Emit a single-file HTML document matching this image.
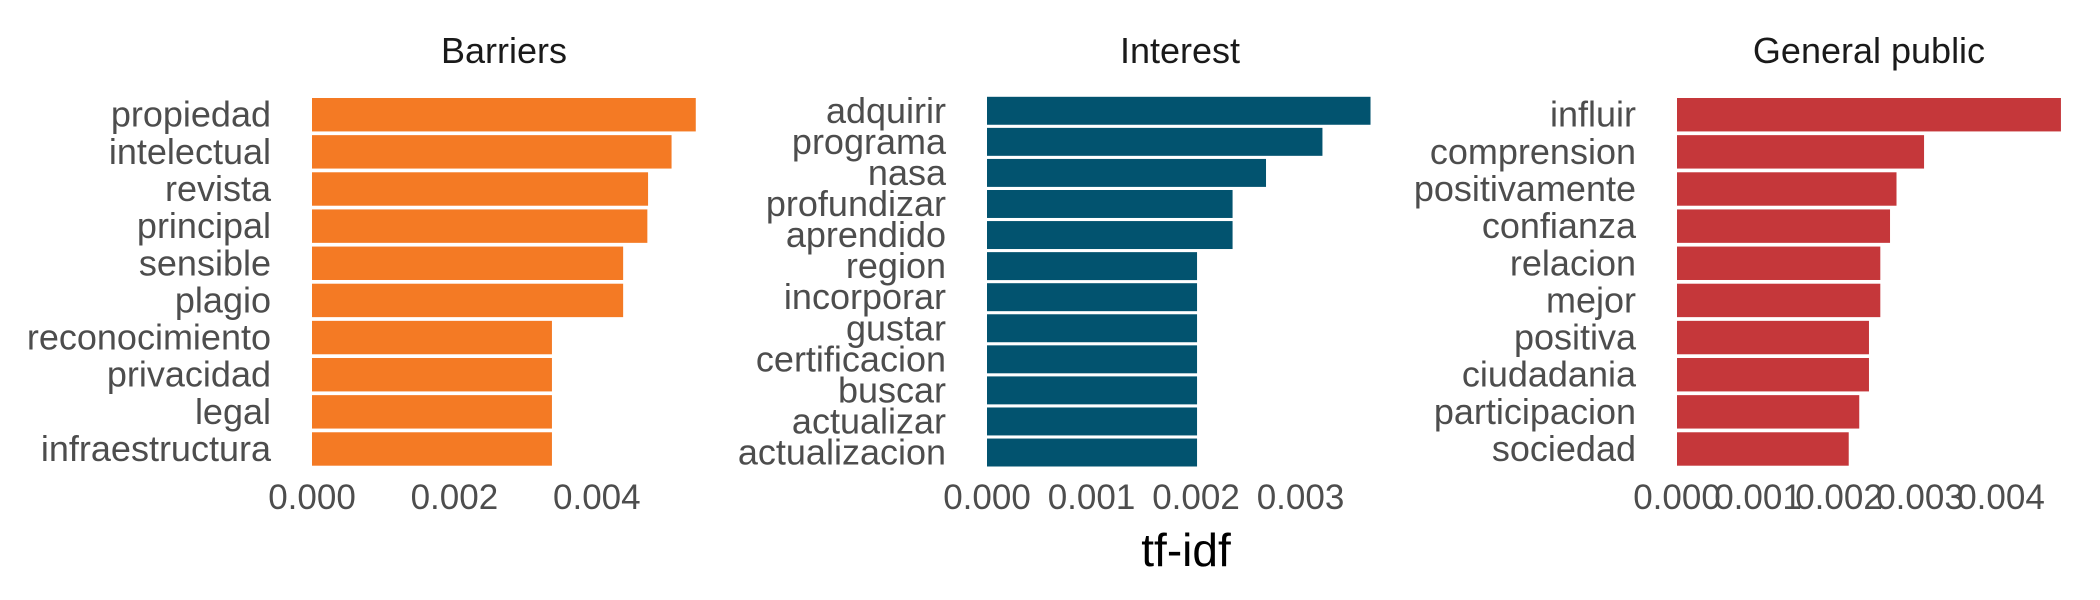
<!DOCTYPE html>
<html><head><meta charset="utf-8">
<style>
html,body{margin:0;padding:0;background:#fff;}
svg{display:block;font-family:"Liberation Sans",Arial,sans-serif;}
</style></head>
<body>
<svg id="chart" width="2100" height="600" viewBox="0 0 2100 600" xmlns="http://www.w3.org/2000/svg">
<text x="1186" y="566" text-anchor="middle" font-size="46" fill="#000">tf-idf</text>
</svg>
<script>
const barriersWords = ["propiedad","intelectual","revista","principal","sensible","plagio","reconocimiento","privacidad","legal","infraestructura"];
const barriersValues = [0.00539,0.00505,0.00472,0.00471,0.00437,0.00437,0.00337,0.00337,0.00337,0.00337];
const barriersTicks = ["0.000","0.002","0.004"];
const interestWords = ["adquirir","programa","nasa","profundizar","aprendido","region","incorporar","gustar","certificacion","buscar","actualizar","actualizacion"];
const interestValues = [0.00367,0.00321,0.00267,0.00235,0.00235,0.00201,0.00201,0.00201,0.00201,0.00201,0.00201,0.00201];
const interestTicks = ["0.000","0.001","0.002","0.003"];
const publicWords = ["influir","comprension","positivamente","confianza","relacion","mejor","positiva","ciudadania","participacion","sociedad"];
const publicValues = [0.00474,0.00305,0.00271,0.00263,0.00251,0.00251,0.00237,0.00237,0.00225,0.00212];
const publicTicks = ["0.000","0.001","0.002","0.003","0.004"];

const NS="http://www.w3.org/2000/svg";
const svg=document.getElementById('chart');
function mk(tag,attrs){const e=document.createElementNS(NS,tag);for(const k in attrs)e.setAttribute(k,attrs[k]);return e;}

const panels=[
 {title:"Barriers",words:barriersWords,vals:barriersValues,ticks:barriersTicks,x0:312,pxPerUnit:71200,top:98,bottom:465.7,labelRight:271,titleX:504,color:"#f47a24",key:"barriers"},
 {title:"Interest",words:interestWords,vals:interestValues,ticks:interestTicks,x0:987,pxPerUnit:104500,top:96.8,bottom:466.5,labelRight:946,titleX:1180,color:"#02536f",key:"interest"},
 {title:"General public",words:publicWords,vals:publicValues,ticks:publicTicks,x0:1677,pxPerUnit:81000,top:98,bottom:465.7,labelRight:1636,titleX:1869,color:"#c5373a",key:"general-public"}
];

panels.forEach(p=>{
  const g=mk('g',{});
  
  
  svg.appendChild(g);
  const n=p.words.length;
  const band=(p.bottom-p.top)/(n-0.1);
  const xs=v=>p.x0+v*p.pxPerUnit;
  const yc=i=>p.top+band*0.45+i*band;
  const t=mk('text',{x:p.titleX,y:63,'text-anchor':'middle','font-size':36,fill:'#1a1a1a'});
  
  
  t.textContent=p.title;g.appendChild(t);
  p.words.forEach((w,i)=>{
    const r=mk('rect',{x:xs(0),y:yc(i)-band*0.45,width:xs(p.vals[i])-xs(0),height:band*0.9,fill:p.color});
    
    
    g.appendChild(r);
    const l=mk('text',{x:p.labelRight,y:yc(i)+12,'text-anchor':'end','font-size':36,fill:'#4d4d4d'});
    
    
    l.textContent=w;g.appendChild(l);
  });
  p.ticks.forEach(tk=>{
    const e=mk('text',{x:xs(parseFloat(tk)),y:509,'text-anchor':'middle','font-size':35,fill:'#4d4d4d'});
    
    
    e.textContent=tk;g.appendChild(e);
  });
});
</script>
</body></html>
